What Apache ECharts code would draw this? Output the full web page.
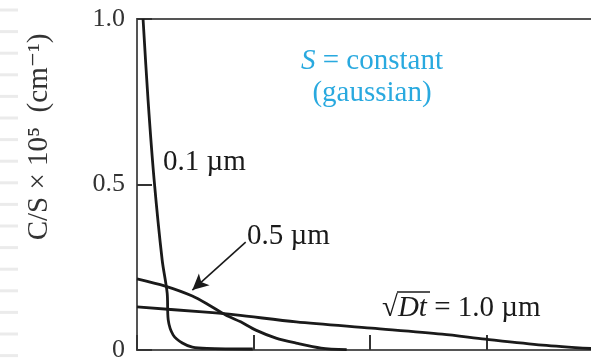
<!DOCTYPE html>
<html>
<head>
<meta charset="utf-8">
<script src="https://cdn.jsdelivr.net/npm/echarts@6/dist/echarts.min.js"></script>
<style>
  html, body { margin: 0; padding: 0; background: #fff; }
  #chart { width: 591px; height: 360px; }
</style>
</head>
<body>
<div id="chart"></div>
<script>
// depth x in um, C/S x 1e5 (cm^-1)
const dt01X = [0.052, 0.095, 0.147, 0.216, 0.259, 0.268, 0.311, 0.389, 0.475, 0.6, 0.994]
const dt01Y = [1.0, 0.755, 0.514, 0.272, 0.172, 0.091, 0.045, 0.021, 0.009, 0.005, 0.003]
const dt05X = [0, 0.242, 0.475, 0.631, 0.761, 0.89, 1.02, 1.193, 1.366, 1.58, 1.8]
const dt05Y = [0.215, 0.193, 0.163, 0.133, 0.106, 0.085, 0.06, 0.036, 0.021, 0.006, 0.001]
const dt10X = [0, 0.562, 0.847, 1.366, 2.014, 2.619, 2.99, 3.48, 3.92]
const dt10Y = [0.13, 0.115, 0.106, 0.085, 0.066, 0.048, 0.033, 0.015, 0.004]
const yTicks = [0, 0.5, 1.0]
const arrowFrom = [0.933, 0.326]
const arrowTo = [0.475, 0.181]

const pairs = (xs, ys) => xs.map((x, i) => [x, ys[i]])
const serif = '"Liberation Serif", "DejaVu Serif", serif'
const ink = '#1a1a1a'

const lineSeries = (name, data) => ({
  name: name,
  type: 'line',
  data: data,
  symbol: 'none',
  smooth: 0.3,
  lineStyle: { color: ink, width: 2.8 },
  z: 3
})

// faint ruled lines at the left margin of the scan
const stripes = []
for (let i = 0; i < 17; i++) {
  stripes.push({
    type: 'line',
    shape: { x1: 0, y1: 10 + i * 21.6, x2: 18, y2: 10 + i * 21.6 },
    style: { stroke: '#ebebeb', lineWidth: 3 }
  })
}

const chart = echarts.init(document.getElementById('chart'))
chart.setOption({
  animation: false,
  backgroundColor: '#fff',
  // the right side of the box falls outside the canvas
  grid: {
    left: 137, top: 19, right: -12, bottom: 10,
    outerBoundsMode: 'none',
    show: true, borderColor: '#555', borderWidth: 2
  },
  xAxis: [
    {
      type: 'value', gridIndex: 0, min: 0, max: 4, interval: 1, position: 'bottom',
      axisLine: { show: true, lineStyle: { color: '#555', width: 2 } },
      axisTick: { show: true, inside: true, length: 15, lineStyle: { color: '#333', width: 2 } },
      axisLabel: { show: false },
      splitLine: { show: false }
    },
    {
      type: 'value', gridIndex: 0, min: 0, max: 4, position: 'top',
      axisLine: { show: true, onZero: false, lineStyle: { color: '#555', width: 2 } },
      axisTick: { show: false },
      axisLabel: { show: false },
      splitLine: { show: false }
    }
  ],
  yAxis: {
    type: 'value', min: 0, max: 1, interval: 0.5,
    axisLine: { show: true, lineStyle: { color: '#555', width: 2 } },
    axisTick: { show: true, inside: true, length: 15, lineStyle: { color: '#333', width: 2 } },
    axisLabel: {
      margin: 12, color: '#333', fontFamily: serif, fontSize: 26,
      formatter: v => (yTicks.indexOf(v) < 0 ? '' : (v === 0 ? '0' : v.toFixed(1)))
    },
    splitLine: { show: false }
  },
  series: [
    lineSeries('0.1', pairs(dt01X, dt01Y)),
    Object.assign(lineSeries('0.5', pairs(dt05X, dt05Y)), {
      markLine: {
        silent: true,
        symbol: ['none', 'arrow'],
        symbolSize: [12, 16],
        label: { show: false },
        lineStyle: { color: ink, width: 1.6, type: 'solid' },
        data: [[{ coord: arrowFrom }, { coord: arrowTo }]]
      }
    }),
    lineSeries('1.0', pairs(dt10X, dt10Y))
  ],
  graphic: stripes.concat([
    {
      type: 'text', x: 39, y: 137, rotation: Math.PI / 2,
      style: {
        text: 'C/S × 10⁵  (cm⁻¹)', fill: '#333', font: '29px ' + serif,
        align: 'center', verticalAlign: 'middle'
      }
    },
    {
      type: 'text', x: 372, y: 61,
      style: {
        text: '{i|S} = constant', fill: '#29a9df', font: '29px ' + serif,
        align: 'center', verticalAlign: 'middle',
        rich: { i: { fontStyle: 'italic', fontFamily: serif, fontSize: 29, fill: '#29a9df' } }
      }
    },
    {
      type: 'text', x: 372, y: 93,
      style: {
        text: '(gaussian)', fill: '#29a9df', font: '29px ' + serif,
        align: 'center', verticalAlign: 'middle'
      }
    },
    {
      type: 'text', x: 163, y: 162,
      style: { text: '0.1 µm', fill: ink, font: '29px ' + serif, verticalAlign: 'middle' }
    },
    {
      type: 'text', x: 247, y: 236,
      style: { text: '0.5 µm', fill: ink, font: '29px ' + serif, verticalAlign: 'middle' }
    },
    {
      type: 'text', x: 382, y: 308,
      style: {
        text: '√{i|Dt} = 1.0 µm', fill: ink, font: '29px ' + serif, verticalAlign: 'middle',
        rich: { i: { fontStyle: 'italic', fontFamily: serif, fontSize: 29, fill: ink } }
      }
    },
    {
      type: 'line',
      shape: { x1: 397, y1: 292, x2: 430, y2: 292 },
      style: { stroke: ink, lineWidth: 1.5 }
    }
  ])
})
</script>
</body>
</html>
